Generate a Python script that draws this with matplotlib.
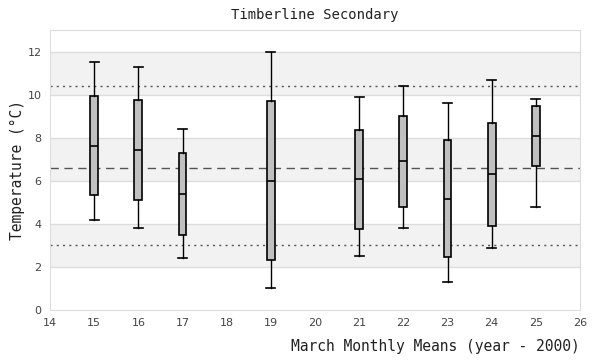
import numpy as np
import matplotlib
matplotlib.use("Agg")
import matplotlib.pyplot as plt

# March monthly means per year (year - 2000)
years = [15, 16, 17, 19, 21, 22, 23, 24, 25]
low = [4.17, 3.80, 2.40, 1.01, 2.50, 3.80, 1.29, 2.87, 4.78]
q1 = [5.33, 5.10, 3.46, 2.31, 3.75, 4.78, 2.45, 3.88, 6.70]
med = [7.63, 7.43, 5.38, 5.99, 6.09, 6.92, 5.15, 6.33, 8.08]
q3 = [9.94, 9.75, 7.29, 9.71, 8.36, 9.01, 7.89, 8.68, 9.47]
high = [11.52, 11.27, 8.40, 11.99, 9.89, 10.40, 9.61, 10.68, 9.80]

mean_line = 6.6
upper_line = 10.4
lower_line = 3.0

mono = ["DejaVu Sans Mono"]

fig = plt.figure(figsize=(6, 3.6), dpi=100)
ax = fig.add_axes([50/600, 50/360, 530/600, 280/360])

# alternating bands
for b in [2, 6, 10]:
    ax.axhspan(b, b + 2, color="#f2f2f2", zorder=0, lw=0)
for g in range(2, 13, 2):
    ax.axhline(g, color="#dddddd", lw=1, zorder=0.5)

ax.axhline(upper_line, color="#555555", lw=1, ls=(0, (1.5, 3)), zorder=1)
ax.axhline(lower_line, color="#555555", lw=1, ls=(0, (1.5, 3)), zorder=1)
ax.axhline(mean_line, color="#555555", lw=1, ls=(0, (6, 4)), zorder=1)

stats = []
for i in range(len(years)):
    stats.append(dict(whislo=low[i], q1=q1[i], med=med[i], q3=q3[i], whishi=high[i]))

ax.bxp(stats, positions=years, widths=0.18, patch_artist=True, showfliers=False,
       boxprops=dict(facecolor="#c0c0c0", edgecolor="black", lw=1.2),
       medianprops=dict(color="black", lw=1.2),
       whiskerprops=dict(color="black", lw=1.0),
       capprops=dict(color="black", lw=1.2),
       capwidths=0.2, zorder=3)

ax.set_xlim(14, 26)
ax.set_ylim(0, 13)
ax.set_xticks(range(14, 27))
ax.set_xticklabels([str(v) for v in range(14, 27)])
ax.set_yticks(range(0, 13, 2))
ax.tick_params(length=0, labelsize=8, colors="#444444", pad=6)
for s in ax.spines.values():
    s.set_color("#dddddd")

ax.set_title("Timberline Secondary", family=mono, fontsize=10, color="#222222", pad=8)
ax.set_ylabel("Temperature (°C)", family=mono, fontsize=10.5, color="#222222", labelpad=2)
ax.set_xlabel("March Monthly Means (year - 2000)", family=mono, fontsize=10.5,
              color="#222222", loc="right", labelpad=8)

fig.savefig("out.png", dpi=100)
